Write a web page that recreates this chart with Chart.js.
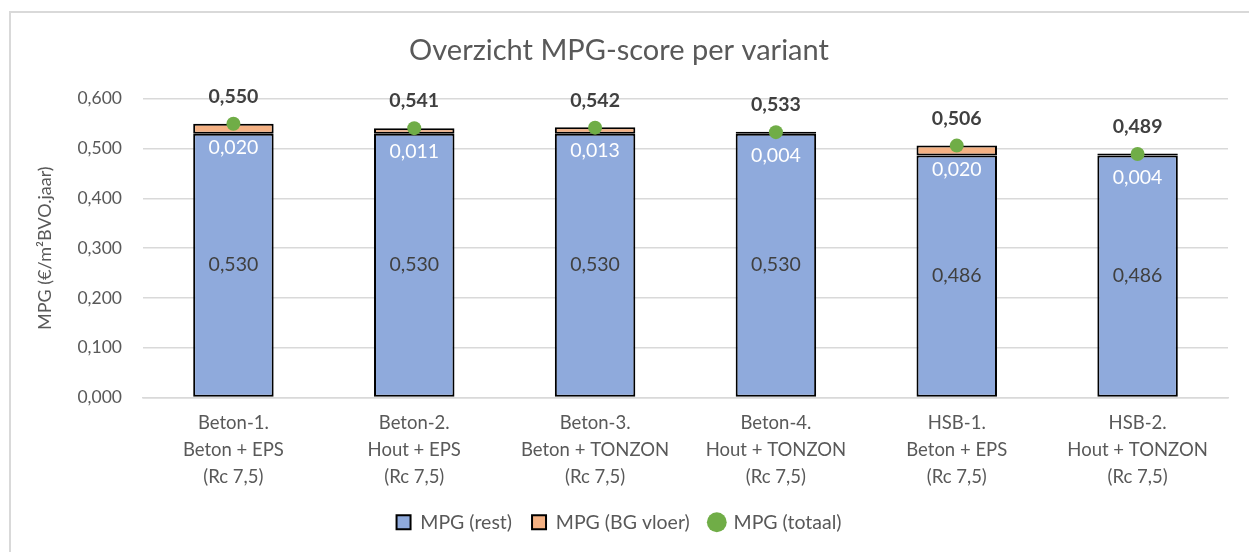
<!DOCTYPE html>
<html>
<head>
<meta charset="utf-8">
<script src="https://cdn.jsdelivr.net/npm/chart.js@4.4.1/dist/chart.umd.min.js"></script>
<style>
  html, body { margin: 0; padding: 0; background: #fff; }
  #wrap { position: relative; width: 1249px; height: 552px; }
</style>
</head>
<body>
<div id="wrap"><canvas id="mpgChart" width="1249" height="552"></canvas></div>
<script>
// Data
const categories = [
    ['Beton-1.', 'Beton + EPS', '(Rc 7,5)'],
    ['Beton-2.', 'Hout + EPS', '(Rc 7,5)'],
    ['Beton-3.', 'Beton + TONZON', '(Rc 7,5)'],
    ['Beton-4.', 'Hout + TONZON', '(Rc 7,5)'],
    ['HSB-1.', 'Beton + EPS', '(Rc 7,5)'],
    ['HSB-2.', 'Hout + TONZON', '(Rc 7,5)']
];
const mpgRest = [0.530, 0.530, 0.530, 0.530, 0.486, 0.486];
const mpgBgVloer = [0.020, 0.011, 0.013, 0.004, 0.020, 0.004];
const mpgTotaal = [0.550, 0.541, 0.542, 0.533, 0.506, 0.489];
const yTicks = [0, 0.1, 0.2, 0.3, 0.4, 0.5, 0.6];

const fmt = v => v.toFixed(3).replace('.', ',');
const FONT = 'Lato, Carlito, Calibri, sans-serif';
const GREY = '#595959';

// frame round the chart
const framePlugin = {
    id: 'frame',
    beforeDraw(chart) {
        const ctx = chart.ctx;
        ctx.save();
        ctx.strokeStyle = '#d9d9d9';
        ctx.lineWidth = 2;
        ctx.strokeRect(10, 12, 1300, 600);
        ctx.restore();
    }
};

// value labels
const labelPlugin = {
    id: 'valueLabels',
    afterDatasetsDraw(chart) {
        const ctx = chart.ctx;
        ctx.save();
        ctx.textAlign = 'center';
        ctx.textBaseline = 'middle';

        chart.getDatasetMeta(0).data.forEach((bar, i) => {
            ctx.fillStyle = '#404040';
            ctx.font = '19.5px ' + FONT;
            ctx.fillText(fmt(mpgRest[i]), bar.x, (bar.y + bar.base) / 2);
        });
        chart.getDatasetMeta(1).data.forEach((bar, i) => {
            ctx.fillStyle = '#ffffff';
            ctx.font = '19.5px ' + FONT;
            ctx.fillText(fmt(mpgBgVloer[i]), bar.x, bar.y + 24);
        });
        chart.getDatasetMeta(2).data.forEach((pt, i) => {
            ctx.fillStyle = '#404040';
            ctx.font = 'bold 19.5px ' + FONT;
            ctx.fillText(fmt(mpgTotaal[i]), pt.x, pt.y - 27);
        });
        ctx.restore();
    }
};

const ctx = document.getElementById('mpgChart').getContext('2d');
const mpgChart = new Chart(ctx, {
    type: 'bar',
    data: {
        labels: categories,
        datasets: [{
            label: 'MPG (rest)',
            data: mpgRest,
            backgroundColor: '#8faadc',
            borderColor: '#000000',
            borderWidth: 2,
            borderSkipped: false,
            barPercentage: 0.445,
            categoryPercentage: 1,
            order: 1
        }, {
            label: 'MPG (BG vloer)',
            data: mpgBgVloer,
            backgroundColor: '#f4b183',
            borderColor: '#000000',
            borderWidth: 2,
            borderSkipped: false,
            barPercentage: 0.445,
            categoryPercentage: 1,
            order: 1
        }, {
            type: 'line',
            label: 'MPG (totaal)',
            data: mpgTotaal,
            showLine: false,
            pointRadius: 7,
            pointHoverRadius: 7,
            pointBackgroundColor: '#70ad47',
            pointBorderWidth: 0,
            borderColor: '#70ad47',
            backgroundColor: '#70ad47',
            order: 0
        }]
    },
    options: {
        responsive: false,
        animation: false,
        layout: {
            padding: { top: 33, left: 10, right: 21, bottom: 10 }
        },
        scales: {
            x: {
                stacked: true,
                grid: { display: false, drawTicks: false },
                border: { color: '#d9d9d9', width: 1.5 },
                ticks: {
                    color: GREY,
                    font: { family: FONT, size: 18.5, lineHeight: 1.46 },
                    padding: 12,
                    maxRotation: 0
                },
                afterFit(scale) { scale.height = 95; }
            },
            y: {
                stacked: true,
                min: 0,
                max: 0.6,
                afterBuildTicks(scale) {
                    scale.ticks = yTicks.map(v => ({ value: v }));
                },
                grid: { color: '#d9d9d9', lineWidth: 1.5, drawTicks: false },
                border: { display: false },
                ticks: {
                    color: GREY,
                    font: { family: FONT, size: 17.5 },
                    padding: 21,
                    callback: v => fmt(v)
                },
                title: {
                    display: true,
                    text: 'MPG (€/m²BVO.jaar)',
                    color: GREY,
                    font: { family: FONT, size: 18 },
                    padding: { top: 24, bottom: 0 }
                },
                afterFit(scale) { scale.width = 133; }
            }
        },
        plugins: {
            title: {
                display: true,
                text: 'Overzicht MPG-score per variant',
                color: GREY,
                font: { family: FONT, size: 29, weight: 'normal' },
                padding: { top: 0, bottom: 31 }
            },
            legend: {
                position: 'bottom',
                labels: {
                    color: GREY,
                    font: { family: FONT, size: 19.5 },
                    boxWidth: 14,
                    boxHeight: 14,
                    padding: 20,
                    usePointStyle: true,
                    generateLabels(chart) {
                        const items = Chart.defaults.plugins.legend.labels.generateLabels(chart);
                        items.forEach(it => {
                            if (it.datasetIndex === 2) {
                                it.pointStyle = 'circle';
                                it.lineWidth = 0;
                                it.strokeStyle = '#70ad47';
                            } else {
                                it.pointStyle = 'rect';
                                it.lineWidth = 2;
                                it.strokeStyle = '#000000';
                            }
                        });
                        return items.sort((a, b) => a.datasetIndex - b.datasetIndex);
                    }
                }
            },
            tooltip: { enabled: false }
        }
    },
    plugins: [framePlugin, labelPlugin]
});
</script>
</body>
</html>
